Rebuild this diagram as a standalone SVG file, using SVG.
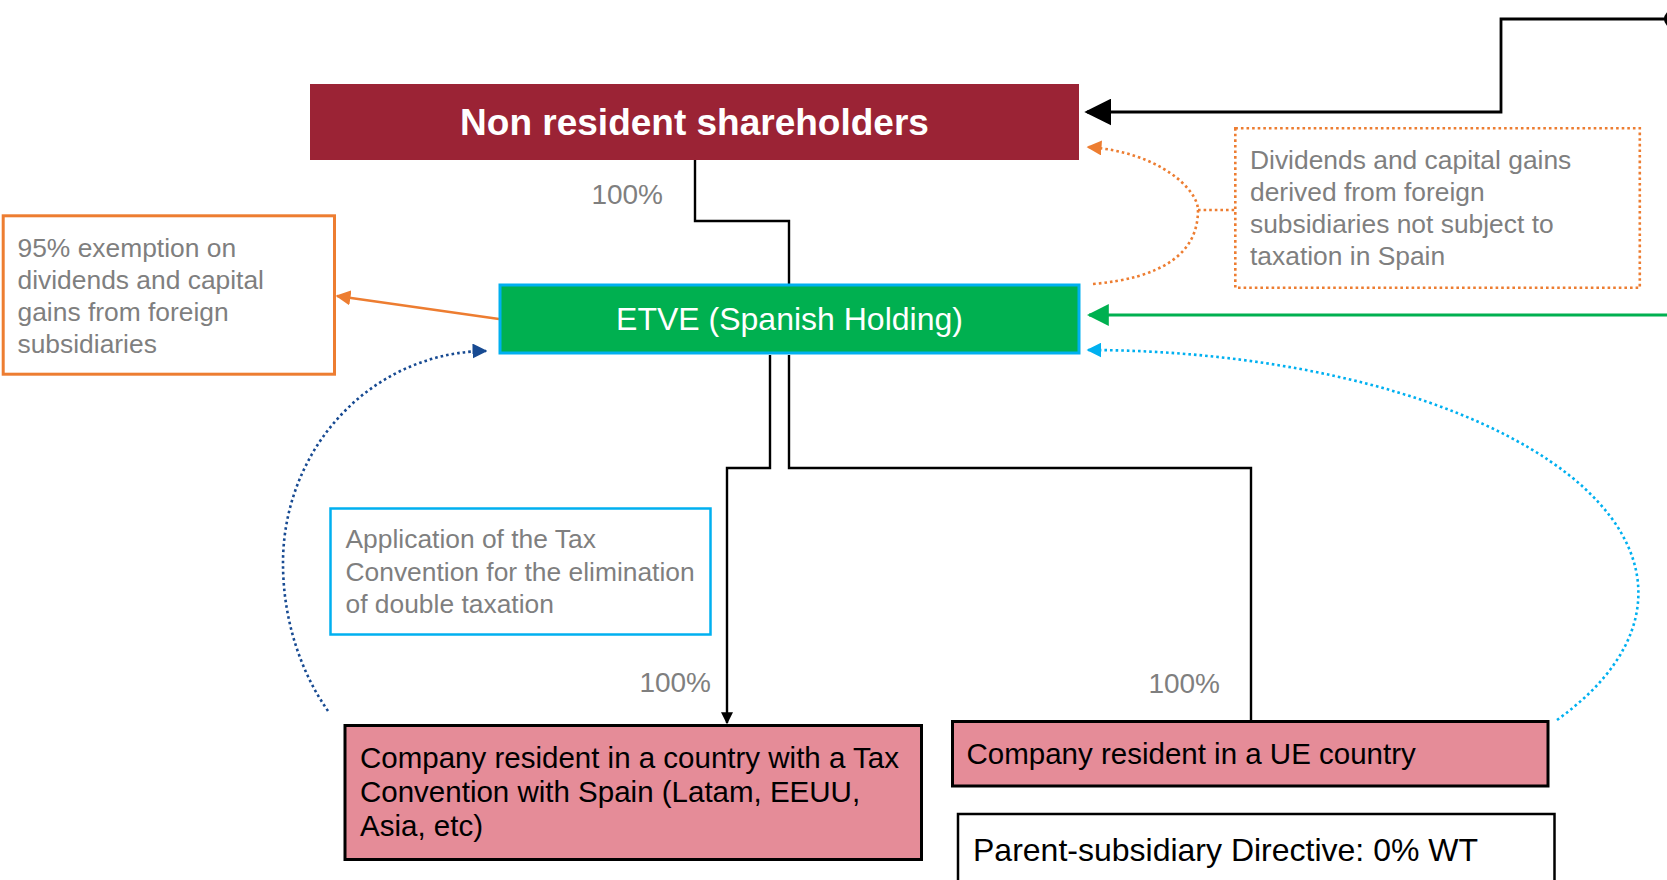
<svg xmlns="http://www.w3.org/2000/svg" width="1667" height="880" viewBox="0 0 1667 880">
<style>
.lbl{font-family:"Liberation Sans",Arial,sans-serif;}
.gray{font-family:"Liberation Sans",Arial,sans-serif;font-size:26.4px;fill:#7F7F7F;}
.blk{font-family:"Liberation Sans",Arial,sans-serif;font-size:29.5px;fill:#000;}
.big{font-family:"Liberation Sans",Arial,sans-serif;font-size:32px;fill:#000;}
.pct{font-family:"Liberation Sans",Arial,sans-serif;font-size:28px;fill:#7F7F7F;text-anchor:end;}
.conn{fill:none;stroke:#000;stroke-width:2.4;}
.dot{fill:none;stroke-width:2.6;stroke-dasharray:2.6 3;}
</style>
<defs>
<marker id="aBlackBig" viewBox="0 0 10 10" refX="9" refY="5" markerUnits="userSpaceOnUse" markerWidth="27" markerHeight="27" orient="auto"><path d="M0,0 L10,5 L0,10 z" fill="#000"/></marker>
<marker id="aBlack" viewBox="0 0 10 10" refX="9" refY="5" markerUnits="userSpaceOnUse" markerWidth="12" markerHeight="15" orient="auto"><path d="M0,0 L10,5 L0,10 z" fill="#000"/></marker>
<marker id="aGreen" viewBox="0 0 10 10" refX="9" refY="5" markerUnits="userSpaceOnUse" markerWidth="22" markerHeight="22" orient="auto"><path d="M0,0 L10,5 L0,10 z" fill="#00B050"/></marker>
<marker id="aOrange" viewBox="0 0 10 10" refX="9" refY="5" markerUnits="userSpaceOnUse" markerWidth="15" markerHeight="15" orient="auto"><path d="M0,0 L10,5 L0,10 z" fill="#ED7D31"/></marker>
<marker id="aBlue" viewBox="0 0 10 10" refX="9" refY="5" markerUnits="userSpaceOnUse" markerWidth="15" markerHeight="15" orient="auto"><path d="M0,0 L10,5 L0,10 z" fill="#00B0F0"/></marker>
<marker id="aNavy" viewBox="0 0 10 10" refX="9" refY="5" markerUnits="userSpaceOnUse" markerWidth="15" markerHeight="15" orient="auto"><path d="M0,0 L10,5 L0,10 z" fill="#174A92"/></marker>
</defs>
<rect width="1667" height="880" fill="#fff"/>

<g id="connectors">
  <path class="conn" d="M695,160 V221 H789 V284"/>
  <path class="conn" d="M770,355 V468 H727 V723" marker-end="url(#aBlack)"/>
  <path class="conn" d="M789,355 V468 H1251 V721"/>
  <path fill="none" stroke="#000" stroke-width="2.8" d="M1673,19 H1501 V112 H1087" marker-end="url(#aBlackBig)"/>
  <circle cx="1673" cy="19" r="9" fill="#000"/>
  <path fill="none" stroke="#00B050" stroke-width="2.8" d="M1667,315 H1089" marker-end="url(#aGreen)"/>
  <path fill="none" stroke="#ED7D31" stroke-width="2.6" d="M499,319 L337,296" marker-end="url(#aOrange)"/>
  <path class="dot" stroke="#ED7D31" d="M1093,284 C1160,278 1198,255 1198,210 C1198,190 1160,152 1088,147" marker-end="url(#aOrange)"/>
  <path class="dot" stroke="#ED7D31" d="M1198,210 H1235"/>
  <path class="dot" stroke="#00B0F0" d="M1557,720 A552,243 0 0 0 1088,350" marker-end="url(#aBlue)"/>
  <path class="dot" stroke="#174A92" d="M328,711 A204,236 0 0 1 283,563 A204,212 0 0 1 486,351" marker-end="url(#aNavy)"/>
</g>

<g id="node-nonresident">
  <rect x="310" y="84" width="769" height="76" fill="#9B2335"/>
  <text class="lbl" x="694.5" y="135" font-size="37" font-weight="bold" fill="#fff" text-anchor="middle">Non resident shareholders</text>
</g>

<g id="label-100-top"><text class="pct" x="663" y="204">100%</text></g>

<g id="node-etve">
  <rect x="500" y="285" width="579" height="68" fill="#00B050" stroke="#00B0F0" stroke-width="3"/>
  <text class="lbl" x="789.5" y="330" font-size="32" fill="#fff" text-anchor="middle">ETVE (Spanish Holding)</text>
</g>

<g id="note-exemption">
  <rect x="3.2" y="215.8" width="331.3" height="158.4" fill="#fff" stroke="#ED7D31" stroke-width="3"/>
  <text class="gray" x="17.5" y="257">95% exemption on</text>
  <text class="gray" x="17.5" y="289">dividends and capital</text>
  <text class="gray" x="17.5" y="321">gains from foreign</text>
  <text class="gray" x="17.5" y="353">subsidiaries</text>
</g>

<g id="note-dividends">
  <rect x="1235.3" y="128.3" width="404.5" height="159.5" fill="#fff" stroke="#ED7D31" stroke-width="2.6" stroke-dasharray="2.6 3"/>
  <text class="gray" x="1250" y="169">Dividends and capital gains</text>
  <text class="gray" x="1250" y="201">derived from foreign</text>
  <text class="gray" x="1250" y="233">subsidiaries not subject to</text>
  <text class="gray" x="1250" y="265">taxation in Spain</text>
</g>

<g id="note-convention">
  <rect x="330.5" y="508.5" width="380" height="126" fill="#fff" stroke="#00B0F0" stroke-width="2.5"/>
  <text class="gray" x="345.5" y="548">Application of the Tax</text>
  <text class="gray" x="345.5" y="580.5">Convention for the elimination</text>
  <text class="gray" x="345.5" y="612.5">of double taxation</text>
</g>

<g id="label-100-left"><text class="pct" x="711" y="692">100%</text></g>
<g id="label-100-right"><text class="pct" x="1220" y="693">100%</text></g>

<g id="node-treaty-company">
  <rect x="345" y="725.5" width="576.5" height="134" fill="#E58C98" stroke="#000" stroke-width="3"/>
  <text class="blk" x="360" y="768">Company resident in a country with a Tax</text>
  <text class="blk" x="360" y="802">Convention with Spain (Latam, EEUU,</text>
  <text class="blk" x="360" y="836">Asia, etc)</text>
</g>

<g id="node-ue-company">
  <rect x="952.5" y="721.5" width="595.5" height="64.5" fill="#E58C98" stroke="#000" stroke-width="3"/>
  <text class="blk" x="966.5" y="764">Company resident in a UE country</text>
</g>

<g id="note-directive">
  <rect x="958" y="814" width="596.5" height="100" fill="#fff" stroke="#000" stroke-width="2.5"/>
  <text class="big" x="973" y="861">Parent-subsidiary Directive: 0% WT</text>
</g>
</svg>
